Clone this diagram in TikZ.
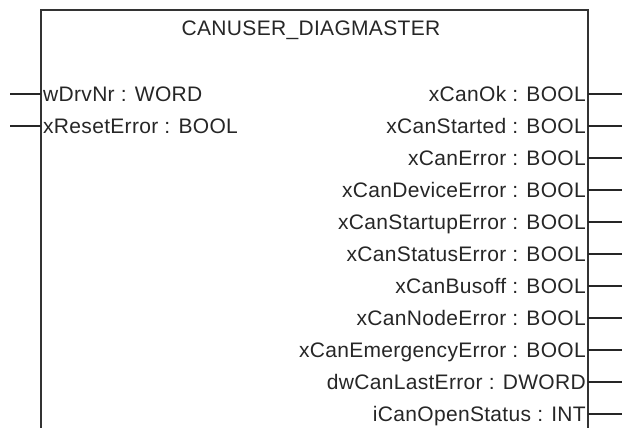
\documentclass[tikz,border=0pt]{standalone}
\usepackage{fontspec}
\setmainfont[LetterSpace=1.5]{Liberation Sans}
\begin{document}
\begin{tikzpicture}[x=1pt,y=-1pt,
  lbl/.style={font=\fontsize{21}{25}\selectfont, text=black!85, inner sep=0pt},
  inlbl/.style={lbl, anchor=base west},
  outlbl/.style={lbl, anchor=base east},
  pin/.style={draw=black!85, line width=1.3pt},
  boxline/.style={draw=black!80, line width=1.5pt}]
\useasboundingbox (0,0) rectangle (622,428);
% block outline (open at bottom)
\coordinate (bl) at (41,428);
\coordinate (tl) at (41,10);
\coordinate (tr) at (588,10);
\coordinate (br) at (588,428);
\draw[boxline] (bl) -- (tl) -- (tr) -- (br);
% title
\node[lbl, anchor=base] (title) at (311,36) {CANUSER\_DIAGMASTER};
% inputs
\foreach \y/\n/\t in {94/i1/{wDrvNr : WORD}, 126/i2/{xResetError : BOOL}}{
  \coordinate (\n p) at (41,\y);
  \coordinate (\n e) at (10,\y);
  \node[inlbl] (\n) at (43,\y+7.5) {\t};
  \draw[pin] (\n e) -- (\n p);
}
% outputs
\foreach \y/\n/\t in {94/o1/{xCanOk : BOOL}, 126/o2/{xCanStarted : BOOL}, 158/o3/{xCanError : BOOL},
  190/o4/{xCanDeviceError : BOOL}, 222/o5/{xCanStartupError : BOOL}, 254/o6/{xCanStatusError : BOOL},
  286/o7/{xCanBusoff : BOOL}, 318/o8/{xCanNodeError : BOOL}, 350/o9/{xCanEmergencyError : BOOL},
  382/o10/{dwCanLastError : DWORD}, 414/o11/{iCanOpenStatus : INT}}{
  \coordinate (\n p) at (588,\y);
  \coordinate (\n e) at (622,\y);
  \node[outlbl] (\n) at (586,\y+7.5) {\t};
  \draw[pin] (\n p) -- (\n e);
}
\end{tikzpicture}
\end{document}
